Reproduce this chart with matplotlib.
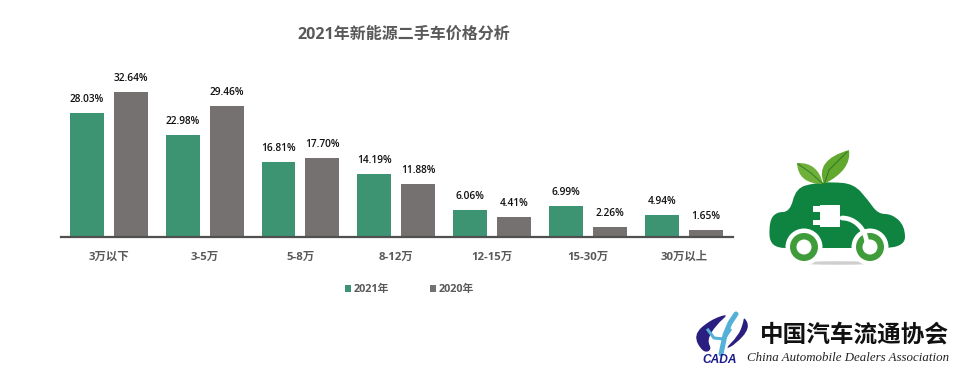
import numpy as np
import matplotlib
matplotlib.use('Agg')
import matplotlib.pyplot as plt
from matplotlib.path import Path
from matplotlib.patches import PathPatch, Circle, Ellipse, Rectangle

plt.rcParams['font.family'] = ['Open Sans', 'Noto Sans CJK SC', 'DejaVu Sans']

categories = ['3万以下', '3-5万', '5-8万', '8-12万', '12-15万', '15-30万', '30万以上']
values_2021 = [28.03, 22.98, 16.81, 14.19, 6.06, 6.99, 4.94]
values_2020 = [32.64, 29.46, 17.70, 11.88, 4.41, 2.26, 1.65]
series_names = ['2021年', '2020年']

GREEN = '#3c9473'
GREY = '#767171'


def smooth_patch(points, **kw):
    # curva fechada: pontos de controle viram uma spline quadratica
    pts = np.array(points, dtype=float)
    mids = (pts + np.roll(pts, -1, axis=0)) / 2
    verts = [mids[-1]]
    codes = [Path.MOVETO]
    for i in range(len(pts)):
        verts += [pts[i], mids[i]]
        codes += [Path.CURVE3, Path.CURVE3]
    return PathPatch(Path(verts, codes), **kw)


def leaf_patch(base, tip, c1, c2, **kw):
    # folha pontuda: duas curvas entre a base e a ponta
    verts = [base, c1, tip, c2, base]
    codes = [Path.MOVETO, Path.CURVE3, Path.CURVE3, Path.CURVE3, Path.CURVE3]
    return PathPatch(Path(verts, codes), **kw)


fig = plt.figure(figsize=(9.6, 3.75), dpi=100, facecolor='white')

# grafico de barras
ax = fig.add_axes([61 / 960, 1 - 237 / 375, 672 / 960, 177.6 / 375])
x = np.arange(len(categories))
w = 34 / 96
off = 22 / 96
bars_a = ax.bar(x - off, values_2021, w, color=GREEN)
bars_b = ax.bar(x + off, values_2020, w, color=GREY)
for bars in (bars_a, bars_b):
    for b in bars:
        ax.annotate(f'{b.get_height():.2f}%', (b.get_x() + b.get_width() / 2, b.get_height()),
                    xytext=(0, 8), textcoords='offset pixels', ha='center', va='bottom',
                    fontsize=7.3, color='#111111', fontweight='semibold')
ax.set_xlim(-0.5, 6.515)
ax.set_ylim(0, 40)
ax.set_yticks([])
ax.set_xticks(x)
ax.set_xticklabels(categories, fontsize=8.2, color='#595959', fontweight='bold')
ax.tick_params(axis='x', length=0, pad=10.5)
for s in ['top', 'left', 'right']:
    ax.spines[s].set_visible(False)
ax.spines['bottom'].set_color('#505050')
ax.spines['bottom'].set_linewidth(1.6)
ax.patch.set_alpha(0)

# camada em pixels para titulo, legenda e logos
ov = fig.add_axes([0, 0, 1, 1], facecolor='none')
ov.set_xlim(0, 960)
ov.set_ylim(375, 0)
ov.axis('off')

ov.text(404, 34.5, '2021年新能源二手车价格分析', ha='center', va='center', fontsize=11.5,
        color='#595959', fontweight='bold')

ov.add_patch(Rectangle((345, 285), 6, 7, color=GREEN, lw=0))
ov.text(354, 289.5, series_names[0], ha='left', va='center', fontsize=7.8, color='#595959', fontweight='bold')
ov.add_patch(Rectangle((430, 285), 6, 7, color=GREY, lw=0))
ov.text(439, 289.5, series_names[1], ha='left', va='center', fontsize=7.8, color='#595959', fontweight='bold')

# carro eletrico
CAR = '#0f8440'
ov.add_patch(Ellipse((838, 263), 80, 3.5, color='#cfcfcf', lw=0))
ov.add_patch(smooth_patch([(770, 248), (769, 222), (776, 212), (790, 212), (796, 188), (815, 183),
                           (832, 182), (854, 184), (868, 200), (878, 214), (892, 214), (905, 226),
                           (905, 248), (860, 248), (800, 248)],
                          facecolor=CAR, edgecolor='none'))
for cx in (804, 870):
    ov.add_patch(Circle((cx, 247), 18.5, color='white', lw=0))
    ov.add_patch(Circle((cx, 247), 14, color='#3f9c3a', lw=0))
    ov.add_patch(Circle((cx, 247), 7.5, color='white', lw=0))
# plugue
ov.add_patch(Rectangle((820, 205), 20, 22, color='white', lw=0))
ov.add_patch(Rectangle((813, 206), 8, 6, color='white', lw=0))
ov.add_patch(Rectangle((813, 220), 8, 5, color='white', lw=0))
t = np.linspace(0, np.pi / 2, 30)
ov.plot(842 + 25 * np.sin(t), 246 - 28 * np.cos(t), color='white', lw=3.4, solid_capstyle='round')
# folhas
ov.add_patch(leaf_patch((824, 184), (849, 150), (814, 160), (852, 170), facecolor='#62a82e', edgecolor='none'))
ov.add_patch(leaf_patch((823, 184), (797, 163), (798, 184), (818, 162), facecolor='#6fb03a', edgecolor='none'))
ov.plot([824, 829, 847], [185, 170, 152], color='#2f7d22', lw=0.8)
ov.plot([823, 811, 798], [184, 173, 164], color='#2f7d22', lw=0.7)

# logo CADA
ov.add_patch(smooth_patch([(703, 353), (693, 335), (710, 320), (730, 313), (716, 325), (707, 340), (712, 350)],
                          facecolor='#2a1f80', edgecolor='none'))
ov.add_patch(smooth_patch([(744, 316), (750, 328), (736, 344), (724, 350), (738, 336), (743, 324)],
                          facecolor='#2a1f80', edgecolor='none'))
ov.plot([721, 725, 730, 736], [354, 335, 323, 314], color='#55b0d8', lw=3.6, solid_capstyle='round')
ov.plot([708, 714, 724, 730], [330, 338, 339, 330], color='#55b0d8', lw=2.2)
ov.text(720, 360, 'CADA', ha='center', va='center', fontsize=8.6, color='#1a1a8c', fontweight='bold',
        style='italic', family=['Liberation Sans'])
ov.text(854, 335, '中国汽车流通协会', ha='center', va='center', fontsize=17, color='#111111', fontweight='bold')
ov.text(848, 358, 'China Automobile Dealers Association', ha='center', va='center', fontsize=9.3,
        color='#222222', style='italic', family=['Liberation Serif'])

fig.savefig('out.png', dpi=100)
